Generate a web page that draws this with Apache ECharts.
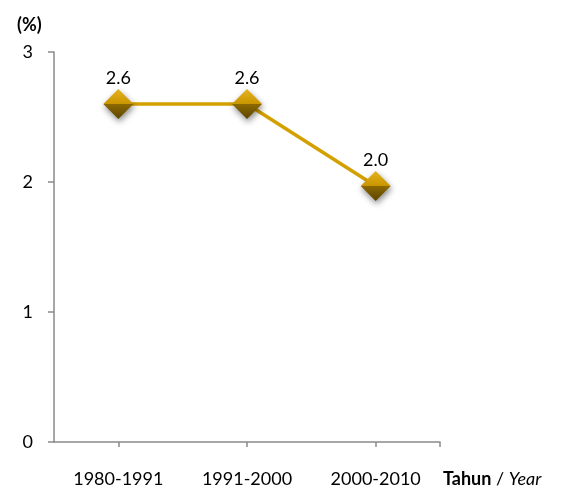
<!DOCTYPE html>
<html>
<head>
<meta charset="utf-8">
<script src="https://cdn.jsdelivr.net/npm/echarts@6/dist/echarts.min.js"></script>
<style>html,body{margin:0;padding:0;background:#fff}#c{width:564px;height:488px}</style>
</head>
<body>
<div id="c"></div>
<script>
const categories = ['1980-1991', '1991-2000', '2000-2010'];
const growthValues = [2.6, 2.6, 1.97];
const growthLabels = ['2.6', '2.6', '2.0'];
const yTicks = [0, 1, 2, 3];

const FONT = 'Lato';
const FS = 18;
const axisColor = '#8a8a8a';
const chart = echarts.init(document.getElementById('c'), null, {renderer: 'canvas'});
chart.setOption({
  animation: false,
  backgroundColor: '#ffffff',
  textStyle: {fontFamily: FONT},
  title: {
    text: '(%)', left: 12, top: 11,
    textStyle: {fontFamily: FONT, fontWeight: 'bold', fontSize: FS, color: '#000'}
  },
  grid: {left: 54, right: 124, top: 52, bottom: 46, containLabel: false},
  xAxis: [{
    type: 'category',
    data: categories,
    boundaryGap: true,
    axisLine: {show: true, lineStyle: {color: axisColor, width: 1.5}},
    axisTick: {show: true, alignWithLabel: true, length: 5, lineStyle: {color: axisColor, width: 1.5}},
    axisLabel: {margin: 28, fontSize: FS, color: '#000', fontFamily: FONT},
    name: '{b|Tahun} / {i|Year}',
    nameLocation: 'end',
    nameGap: 3,
    nameTextStyle: {
      verticalAlign: 'top', align: 'left', padding: [28, 0, 0, 0],
      fontSize: FS, color: '#000', fontFamily: FONT,
      rich: {
        b: {fontWeight: 'bold', fontSize: FS, fontFamily: FONT, color: '#000'},
        i: {fontStyle: 'italic', fontSize: FS, fontFamily: FONT, color: '#000'}
      }
    }
  }, {
    type: 'value', min: 0, max: 3, position: 'bottom',
    axisLine: {show: false},
    axisLabel: {show: false},
    splitLine: {show: false},
    axisTick: {show: true, customValues: [3], length: 5, lineStyle: {color: axisColor, width: 1.5}}
  }],
  yAxis: {
    type: 'value', min: 0, max: 3, interval: 1,
    axisLine: {show: true, lineStyle: {color: axisColor, width: 1.5}},
    axisTick: {show: true, length: 6, lineStyle: {color: axisColor, width: 1.5}},
    splitLine: {show: false},
    axisLabel: {margin: 21, fontSize: FS, color: '#000', fontFamily: FONT,
      customValues: yTicks}
  },
  series: [{
    type: 'line',
    xAxisIndex: 0,
    data: growthValues,
    symbol: 'diamond',
    symbolSize: [30, 30],
    lineStyle: {color: '#D3A000', width: 3.5},
    itemStyle: {
      color: new echarts.graphic.LinearGradient(0, 0, 0, 1, [
        {offset: 0, color: '#E6B21E'},
        {offset: 0.5, color: '#C99600'},
        {offset: 0.5, color: '#8C6900'},
        {offset: 1, color: '#5C4400'}
      ]),
      borderWidth: 0,
      shadowColor: 'rgba(0,0,0,0.45)', shadowBlur: 6, shadowOffsetX: 1, shadowOffsetY: 3
    },
    label: {
      show: true, position: 'top', distance: 2,
      fontSize: FS, color: '#000', fontFamily: FONT,
      formatter: p => growthLabels[p.dataIndex]
    },
    z: 3
  }]
});
</script>
</body>
</html>
